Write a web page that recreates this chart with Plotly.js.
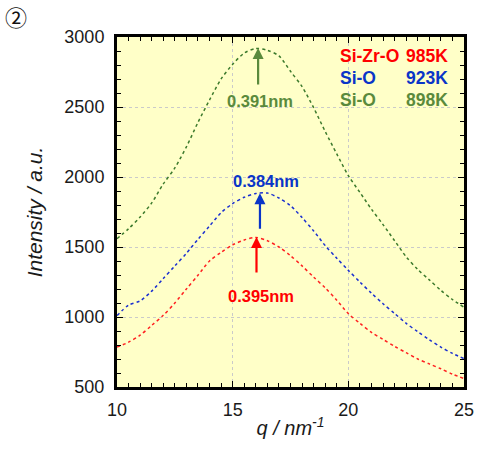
<!DOCTYPE html>
<html>
<head>
<meta charset="utf-8">
<script src="https://cdn.plot.ly/plotly-3.0.1.min.js"></script>
<style>html,body{margin:0;padding:0;background:#fff;}#chart{width:480px;height:450px;}</style>
</head>
<body>
<div id="chart"></div>
<script>
// q / nm^-1 sampling points
const q = [10,10.5,11,11.5,12,12.5,13,13.5,14,14.5,15,15.5,16,16.5,17,17.5,18,18.5,19,19.5,20,20.5,21,21.5,22,22.5,23,23.5,24,24.5,25];
// Si-Zr-O 985K
const siZrO985 = [785,820,870,940,1012,1100,1200,1298,1400,1462,1515,1550,1568,1545,1500,1438,1365,1285,1208,1120,1024,955,890,840,790,745,700,665,630,592,560];
// Si-O 923K
const siO923 = [1010,1085,1115,1185,1275,1365,1455,1555,1650,1745,1810,1855,1882,1885,1850,1795,1710,1615,1510,1420,1333,1250,1170,1095,1025,955,895,837,785,740,703];
// Si-O 898K
const siO898 = [1560,1630,1714,1815,1950,2065,2215,2390,2550,2700,2805,2885,2918,2905,2865,2755,2645,2495,2325,2165,2010,1890,1770,1660,1545,1430,1340,1265,1190,1125,1070];

const seriesNames = ['Si-Zr-O', 'Si-O', 'Si-O'];
const seriesTemps = ['985K', '923K', '898K'];
const lineColors = ['#ff2020', '#1a2fd0', '#3c7a2c'];
const textColors = ['#ff0000', '#0a35c8', '#5a8a3c'];

// peak labels: label text, q of peak, arrow head / tail intensities, label position
const peakLabels = ['0.395nm', '0.384nm', '0.391nm'];
const peakQ = [16.03, 16.18, 16.1];
const arrowHead = [1572, 1884, 2922];
const arrowTail = [1308, 1620, 2650];
const labelQ = [16.22, 16.42, 16.18];
const labelI = [1148, 1971, 2541];

const ys = [siZrO985, siO923, siO898];
const traces = ys.map((y, i) => ({
  x: q, y: y, type: 'scatter', mode: 'lines',
  name: seriesNames[i] + ' ' + seriesTemps[i],
  line: {color: lineColors[i], width: 1.5, dash: 'dot', shape: 'spline', smoothing: 0.8},
  showlegend: false, hoverinfo: 'skip'
}));

const annotations = [];
for (let i = 0; i < 3; i++) {
  annotations.push({
    x: peakQ[i], y: arrowHead[i], xref: 'x', yref: 'y',
    ax: peakQ[i], ay: arrowTail[i], axref: 'x', ayref: 'y',
    text: '', showarrow: true, arrowhead: 2, arrowsize: 1, arrowwidth: 2.2,
    arrowcolor: textColors[i]
  });
  annotations.push({
    x: labelQ[i], y: labelI[i], xref: 'x', yref: 'y', showarrow: false,
    text: '<b>' + peakLabels[i] + '</b>',
    font: {family: 'Liberation Sans, Arial, sans-serif', size: 16.5, color: textColors[i]}
  });
  // legend-like text, two columns
  annotations.push({
    x: 338, y: 450 - [56, 78, 100][i], xref: 'paper', yref: 'paper', showarrow: false,
    text: '<b>' + seriesNames[i] + '</b>', xanchor: 'left', yanchor: 'middle',
    font: {family: 'Liberation Sans, Arial, sans-serif', size: 17.5, color: textColors[i]}
  });
  annotations.push({
    x: 450, y: 450 - [56, 78, 100][i], xref: 'paper', yref: 'paper', showarrow: false,
    text: '<b>' + seriesTemps[i] + '</b>', xanchor: 'right', yanchor: 'middle',
    font: {family: 'Liberation Sans, Arial, sans-serif', size: 17.5, color: textColors[i]}
  });
}
// convert paper pixel positions to paper fractions
const L = 117, R = 16, T = 37, B = 63, W = 480, H = 450;
annotations.forEach(a => {
  if (a.xref === 'paper') {
    a.x = (a.x - L) / (W - L - R);
    a.y = (a.y - B) / (H - T - B);
  }
});
annotations.push({
  x: -(L - 16) / (W - L - R), y: 1 + (T - 16) / (H - T - B), xref: 'paper', yref: 'paper',
  showarrow: false, text: '②', xanchor: 'center', yanchor: 'middle',
  font: {family: 'Noto Sans CJK JP, sans-serif', size: 22, color: '#111'}
});

const axisCommon = {
  showline: true, linecolor: '#000', linewidth: 3, mirror: 'allticks',
  ticks: 'inside', ticklen: 6, tickwidth: 1, tickcolor: '#000',
  showgrid: true, gridcolor: '#cacaca', gridwidth: 1, griddash: 'dot',
  zeroline: false, tickfont: {family: 'Liberation Sans, Arial, sans-serif', size: 18, color: '#1a1a1a'},
};

const layout = {
  width: W, height: H,
  margin: {l: L, r: R, t: T, b: B},
  paper_bgcolor: '#ffffff', plot_bgcolor: '#ffffc8',
  xaxis: Object.assign({}, axisCommon, {
    range: [10, 25], dtick: 5, tick0: 10,
    minor: {dtick: 0.5, ticks: 'inside', ticklen: 4, tickcolor: '#000', showgrid: false},
    ticklabelstandoff: 4,
    title: {text: '<i>q / nm<sup>-1</sup></i>', standoff: 3,
      font: {family: 'Liberation Sans, Arial, sans-serif', size: 20, color: '#1a1a1a'}}
  }),
  yaxis: Object.assign({}, axisCommon, {
    range: [500, 3000], dtick: 500, tick0: 500,
    minor: {dtick: 100, ticks: 'inside', ticklen: 4, tickcolor: '#000', showgrid: false},
    ticklabelstandoff: 6,
    title: {text: '<i>Intensity / a.u.</i>', standoff: 17,
      font: {family: 'Liberation Sans, Arial, sans-serif', size: 21, color: '#1a1a1a'}}
  }),
  annotations: annotations
};

Plotly.newPlot('chart', traces, layout, {staticPlot: true, displayModeBar: false});
</script>
</body>
</html>
